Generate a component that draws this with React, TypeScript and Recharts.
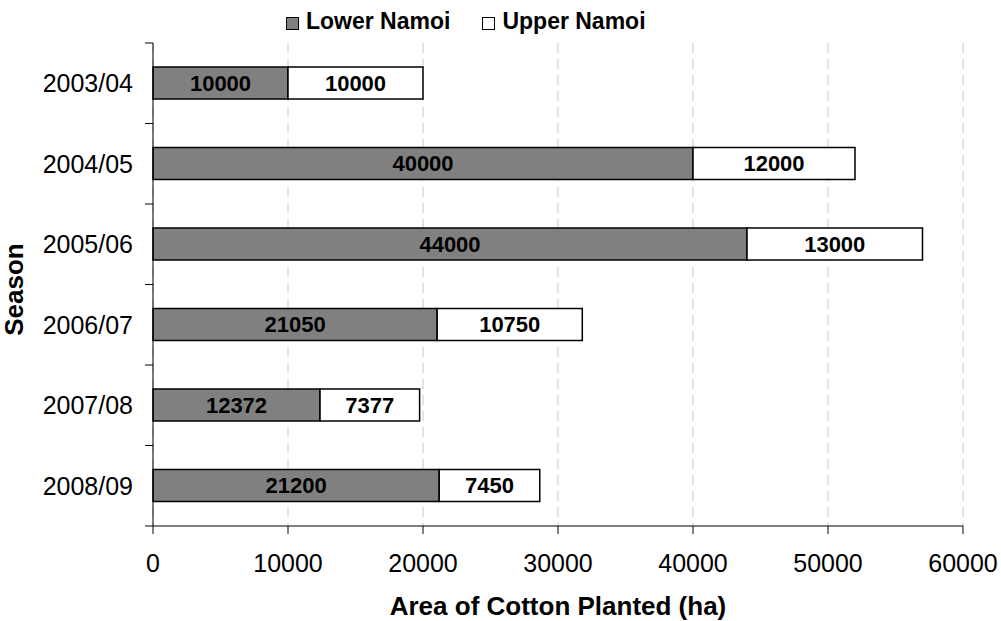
import React from "react";
import {
  Bar,
  BarChart,
  CartesianGrid,
  Label,
  LabelList,
  XAxis,
  YAxis,
} from "recharts";

const seasons = ["2003/04", "2004/05", "2005/06", "2006/07", "2007/08", "2008/09"];
const lowerNamoi = [10000, 40000, 44000, 21050, 12372, 21200];
const upperNamoi = [10000, 12000, 13000, 10750, 7377, 7450];
const xTicks = [0, 10000, 20000, 30000, 40000, 50000, 60000];

const series = [
  { key: "lower", name: "Lower Namoi", fill: "#808080" },
  { key: "upper", name: "Upper Namoi", fill: "#ffffff" },
];

const data = seasons.map((season, i) => ({
  season,
  lower: lowerNamoi[i],
  upper: upperNamoi[i],
}));

const FONT = '"Liberation Sans", Arial, sans-serif';
const WIDTH = 1001;
const HEIGHT = 621;
const MARGIN = { top: 43, right: 38, bottom: 0, left: 13 };
const X_AXIS_HEIGHT = 95;
const Y_AXIS_WIDTH = 140;
const TICK_SIZE = 8;
const Y_TICK_MARGIN = 12;
const PLOT_HEIGHT = HEIGHT - MARGIN.top - MARGIN.bottom - X_AXIS_HEIGHT;

// Excel-style category ticks: label centred in the band, tick marks on the band edges
function SeasonTick(props: any) {
  const { x, y, payload, index, visibleTicksCount } = props;
  const band = PLOT_HEIGHT / seasons.length;
  const x1 = x + Y_TICK_MARGIN;
  const x2 = x1 + TICK_SIZE;
  return (
    <g>
      <line x1={x1} x2={x2} y1={y - band / 2} y2={y - band / 2} stroke="#000" />
      {index === visibleTicksCount - 1 && (
        <line x1={x1} x2={x2} y1={y + band / 2} y2={y + band / 2} stroke="#000" />
      )}
      <text
        x={x}
        y={y}
        dy="0.36em"
        textAnchor="end"
        fontSize={25}
        fontFamily={FONT}
        fill="#000"
      >
        {payload.value}
      </text>
    </g>
  );
}

function SeasonTitle(props: any) {
  const { viewBox } = props;
  const cy = viewBox.y + viewBox.height / 2 + 5;
  return (
    <text
      transform={`translate(23, ${cy}) rotate(-90)`}
      textAnchor="middle"
      fontSize={26}
      fontWeight="bold"
      fontFamily={FONT}
      fill="#000"
    >
      Season
    </text>
  );
}

function ChartLegend() {
  return (
    <div
      style={{
        position: "absolute",
        top: 7,
        left: 286,
        display: "flex",
        alignItems: "center",
        fontFamily: FONT,
        fontWeight: "bold",
        fontSize: 23,
        lineHeight: "28px",
        color: "#000",
      }}
    >
      {series.map((s, i) => (
        <div
          key={s.key}
          style={{ display: "flex", alignItems: "center", marginRight: i === 0 ? 32 : 0 }}
        >
          <span
            style={{
              display: "inline-block",
              width: 11,
              height: 11,
              border: "1px solid #000",
              background: s.fill,
              marginRight: 7,
              position: "relative",
              top: 2,
            }}
          />
          {s.name}
        </div>
      ))}
    </div>
  );
}

export default function App() {
  return (
    <div
      style={{
        position: "absolute",
        left: 0,
        top: 0,
        width: WIDTH,
        height: HEIGHT,
        background: "#fff",
      }}
    >
      <ChartLegend />
      <BarChart
        width={WIDTH}
        height={HEIGHT}
        data={data}
        layout="vertical"
        margin={MARGIN}
        barSize={32}
      >
        <CartesianGrid
          horizontal={false}
          stroke="#c8c8c8"
          strokeDasharray="10 6"
        />
        <XAxis
          type="number"
          domain={[0, 60000]}
          ticks={xTicks}
          height={X_AXIS_HEIGHT}
          axisLine={{ stroke: "#000" }}
          tickLine={{ stroke: "#000" }}
          tickSize={TICK_SIZE}
          tickMargin={20}
          tick={{ fontSize: 25, fill: "#000", fontFamily: FONT }}
          interval={0}
        >
          <Label
            value="Area of Cotton Planted (ha)"
            position="insideBottom"
            offset={6}
            style={{ fontSize: 26, fontWeight: "bold", fill: "#000", fontFamily: FONT }}
          />
        </XAxis>
        <YAxis
          type="category"
          dataKey="season"
          width={Y_AXIS_WIDTH}
          axisLine={{ stroke: "#000" }}
          tickLine={false}
          tickSize={TICK_SIZE}
          tickMargin={Y_TICK_MARGIN}
          tick={<SeasonTick />}
          interval={0}
        >
          <Label content={<SeasonTitle />} />
        </YAxis>
        {series.map((s) => (
          <Bar
            key={s.key}
            dataKey={s.key}
            name={s.name}
            stackId="area"
            fill={s.fill}
            stroke="#000"
            strokeWidth={1.5}
            isAnimationActive={false}
          >
            <LabelList
              dataKey={s.key}
              position="center"
              fill="#000"
              fontSize={22}
              fontWeight="bold"
              fontFamily={FONT}
            />
          </Bar>
        ))}
      </BarChart>
    </div>
  );
}
